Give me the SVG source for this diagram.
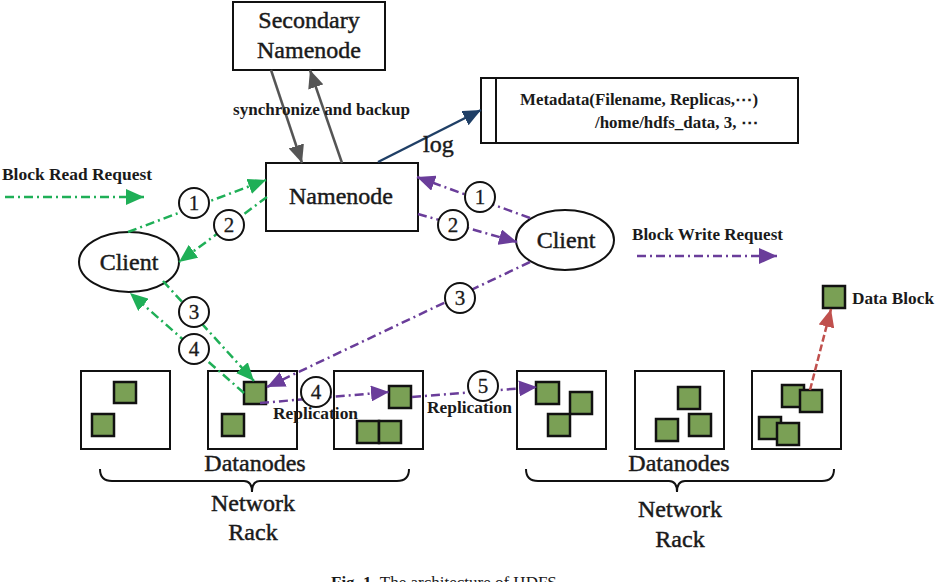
<svg xmlns="http://www.w3.org/2000/svg" width="936" height="582" viewBox="0 0 936 582">
<style>
text{font-family:"Liberation Serif","Times New Roman",serif;fill:#1a1a1a}
.big{font-size:24px;stroke:#1a1a1a;stroke-width:0.45}
.sm{font-size:16.5px;font-weight:bold}
.num{font-size:21px;text-anchor:middle;stroke:#1a1a1a;stroke-width:0.3}
.box{fill:#fff;stroke:#111;stroke-width:2}
.blk{fill:#7aa055;stroke:#111;stroke-width:2.5}
.g{fill:none;stroke:#1faf57;stroke-width:2.5;stroke-dasharray:9 4 2 4}
.p{fill:none;stroke:#6a3d9a;stroke-width:2.5;stroke-dasharray:9 4 2 4}
.gray{fill:none;stroke:#555;stroke-width:2.5}
.lg{fill:none;stroke:#1f3f66;stroke-width:2.5}
.rd{fill:none;stroke:#c0504d;stroke-width:2.5;stroke-dasharray:7 3}
.circ{fill:#fff;stroke:#111;stroke-width:2}
.brace{fill:none;stroke:#111;stroke-width:2}
</style>
<defs>
<marker id="ag" markerUnits="userSpaceOnUse" markerWidth="18" markerHeight="16" refX="18" refY="8" orient="auto"><path d="M0,0 L18,8 L0,16 z" fill="#1faf57"/></marker>
<marker id="ap" markerUnits="userSpaceOnUse" markerWidth="18" markerHeight="16" refX="18" refY="8" orient="auto"><path d="M0,0 L18,8 L0,16 z" fill="#6a3d9a"/></marker>
<marker id="agr" markerUnits="userSpaceOnUse" markerWidth="18" markerHeight="16" refX="18" refY="8" orient="auto"><path d="M0,0 L18,8 L0,16 z" fill="#555"/></marker>
<marker id="ab" markerUnits="userSpaceOnUse" markerWidth="18" markerHeight="16" refX="18" refY="8" orient="auto"><path d="M0,0 L18,8 L0,16 z" fill="#1f3f66"/></marker>
<marker id="ar" markerUnits="userSpaceOnUse" markerWidth="18" markerHeight="16" refX="18" refY="8" orient="auto"><path d="M0,0 L18,8 L0,16 z" fill="#c0504d"/></marker>
</defs>

<g id="secondary-namenode">
<rect class="box" x="233" y="2" width="152" height="68"/>
<text class="big" x="309" y="28" text-anchor="middle">Secondary</text>
<text class="big" x="309" y="58" text-anchor="middle">Namenode</text>
</g>

<g id="namenode">
<rect class="box" x="266" y="163" width="152" height="68"/>
<text class="big" x="341" y="204" text-anchor="middle">Namenode</text>
</g>

<g id="metadata">
<rect class="box" x="481" y="78" width="317" height="65"/>
<line x1="496" y1="78" x2="496" y2="143" stroke="#111" stroke-width="2"/>
<text class="sm" x="520" y="105" textLength="238" lengthAdjust="spacingAndGlyphs">Metadata(Filename, Replicas,⋯)</text>
<text class="sm" x="595" y="128" textLength="163" lengthAdjust="spacingAndGlyphs">/home/hdfs_data, 3, ⋯</text>
</g>

<g id="client-read">
<ellipse class="box" cx="129" cy="262" rx="50" ry="30"/>
<text class="big" x="129" y="270" text-anchor="middle">Client</text>
</g>

<g id="client-write">
<ellipse class="box" cx="565" cy="240" rx="49" ry="30"/>
<text class="big" x="566" y="248" text-anchor="middle">Client</text>
</g>

<g id="rack1">
<g id="dn1">
<rect class="box" x="81" y="371" width="89" height="78"/>
<rect class="blk" x="114" y="382" width="22" height="21"/>
<rect class="blk" x="92" y="414" width="22" height="22"/>
</g>
<g id="dn2">
<rect class="box" x="208" y="371" width="89" height="78"/>
<rect class="blk" x="244" y="382" width="22" height="22"/>
<rect class="blk" x="222" y="414" width="22" height="22"/>
</g>
<g id="dn3">
<rect class="box" x="334" y="371" width="89" height="78"/>
<rect class="blk" x="389" y="386" width="22" height="22"/>
<rect class="blk" x="357" y="421" width="22" height="22"/>
<rect class="blk" x="379" y="421" width="22" height="22"/>
</g>
<text class="big" x="255" y="471" text-anchor="middle">Datanodes</text>
<path class="brace" d="M100,469 Q100,481 112,481 L244,481 Q252,481 252,492 Q252,481 260,481 L397,481 Q409,481 409,469"/>
<text class="big" x="253" y="511" text-anchor="middle">Network</text>
<text class="big" x="253" y="540" text-anchor="middle">Rack</text>
</g>

<g id="rack2">
<g id="dn4">
<rect class="box" x="517" y="371" width="89" height="78"/>
<rect class="blk" x="536" y="382" width="23" height="22"/>
<rect class="blk" x="570" y="392" width="22" height="22"/>
<rect class="blk" x="548" y="414" width="22" height="22"/>
</g>
<g id="dn5">
<rect class="box" x="635" y="371" width="89" height="78"/>
<rect class="blk" x="678" y="387" width="22" height="22"/>
<rect class="blk" x="656" y="419" width="22" height="22"/>
<rect class="blk" x="689" y="414" width="22" height="22"/>
</g>
<g id="dn6">
<rect class="box" x="752" y="371" width="89" height="78"/>
<rect class="blk" x="782" y="385" width="22" height="22"/>
<rect class="blk" x="800" y="390" width="22" height="22"/>
<rect class="blk" x="759" y="417" width="22" height="22"/>
<rect class="blk" x="777" y="423" width="22" height="22"/>
</g>
<text class="big" x="679" y="471" text-anchor="middle">Datanodes</text>
<path class="brace" d="M526,469 Q526,481 538,481 L669,481 Q677,481 677,492 Q677,481 685,481 L822,481 Q834,481 834,469"/>
<text class="big" x="680" y="517" text-anchor="middle">Network</text>
<text class="big" x="680" y="547" text-anchor="middle">Rack</text>
</g>

<g id="legend">
<text class="sm" x="2" y="180" textLength="150" lengthAdjust="spacingAndGlyphs">Block Read Request</text>
<line class="g" x1="5" y1="197" x2="144" y2="197" marker-end="url(#ag)"/>
<text class="sm" x="632" y="240" textLength="151" lengthAdjust="spacingAndGlyphs">Block Write Request</text>
<line class="p" x1="637" y1="256" x2="777" y2="256" marker-end="url(#ap)"/>
<rect class="blk" x="823" y="286" width="22" height="22"/>
<text class="sm" x="852" y="304" textLength="82" lengthAdjust="spacingAndGlyphs">Data Block</text>
</g>

<g id="connectors">
<line class="gray" x1="271" y1="70" x2="302" y2="163" marker-end="url(#agr)"/>
<line class="gray" x1="342" y1="163" x2="310" y2="70" marker-end="url(#agr)"/>
<text class="sm" x="233" y="115" textLength="177" lengthAdjust="spacingAndGlyphs">synchronize and backup</text>
<line class="lg" x1="378" y1="162" x2="481" y2="110" marker-end="url(#ab)"/>
<text class="big" x="423" y="152">log</text>

<line class="g" x1="128" y1="232" x2="266" y2="180" marker-end="url(#ag)"/>
<line class="g" x1="267" y1="197" x2="179" y2="262" marker-end="url(#ag)"/>
<line class="g" x1="163" y1="281" x2="254" y2="381" marker-end="url(#ag)"/>
<line class="g" x1="244" y1="393" x2="130" y2="293" marker-end="url(#ag)"/>

<line class="p" x1="530" y1="218" x2="417" y2="177" marker-end="url(#ap)"/>
<line class="p" x1="418" y1="214" x2="517" y2="242" marker-end="url(#ap)"/>
<line class="p" x1="530" y1="262" x2="267" y2="387" marker-end="url(#ap)"/>
<line class="p" x1="260" y1="403" x2="389" y2="392" marker-end="url(#ap)"/>
<line class="p" x1="412" y1="397" x2="537" y2="387" marker-end="url(#ap)"/>

<line class="rd" x1="810" y1="390" x2="831" y2="309" marker-end="url(#ar)"/>

<circle class="circ" cx="194" cy="203" r="15"/><text class="num" x="194" y="210">1</text>
<circle class="circ" cx="229" cy="225" r="15"/><text class="num" x="229" y="232">2</text>
<circle class="circ" cx="194" cy="312" r="15"/><text class="num" x="194" y="319">3</text>
<circle class="circ" cx="194" cy="349" r="15"/><text class="num" x="194" y="356">4</text>
<circle class="circ" cx="480" cy="197" r="15"/><text class="num" x="480" y="204">1</text>
<circle class="circ" cx="453" cy="225" r="15"/><text class="num" x="453" y="232">2</text>
<circle class="circ" cx="460" cy="298" r="15"/><text class="num" x="460" y="305">3</text>
<circle class="circ" cx="316" cy="392" r="15"/><text class="num" x="316" y="399">4</text>
<circle class="circ" cx="483" cy="386" r="15"/><text class="num" x="483" y="393">5</text>
<text class="sm" x="273" y="419" textLength="85" lengthAdjust="spacingAndGlyphs">Replication</text>
<text class="sm" x="427" y="413" textLength="85" lengthAdjust="spacingAndGlyphs">Replication</text>
</g>

<text x="331" y="588" style="font-size:17px"><tspan font-weight="bold">Fig. 1.</tspan>  The architecture of HDFS</text>
</svg>
